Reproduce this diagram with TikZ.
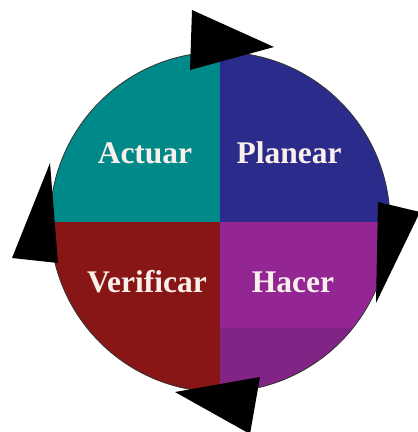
\documentclass[tikz,border=0pt]{standalone}
\usepackage{fontspec}
\setmainfont{Liberation Serif}
\definecolor{cteal}{RGB}{0,137,137}
\definecolor{cblue}{RGB}{43,43,140}
\definecolor{cred}{RGB}{136,22,22}
\definecolor{cpurple}{RGB}{148,38,148}
\definecolor{cpurpledark}{RGB}{130,36,134}
\definecolor{ctext}{RGB}{250,240,235}
\tikzset{
  lbl/.style={text=ctext, font=\bfseries\fontsize{31.5}{33}\selectfont, inner sep=0pt, anchor=base},
  arrowtri/.style={fill=black, draw=none}
}
\begin{document}
\begin{tikzpicture}[x=1pt,y=-1pt]
\useasboundingbox (0,0) rectangle (418,432);
\coordinate (c) at (220,222);
\begin{scope}
  \clip (c) circle (170);
  \fill[cteal] (50,50) rectangle (220,222);
  \fill[cblue] (220,50) rectangle (392,222);
  \fill[cred] (50,222) rectangle (220,394);
  \fill[cpurple] (220,222) rectangle (392,394);
  \fill[cpurpledark] (220,328) rectangle (392,394);
\end{scope}
\draw[black!80, line width=0.8pt] (c) circle (170);
\node[lbl] (actuar) at (145,163) {Actuar};
\node[lbl] (planear) at (289,163) {Planear};
\node[lbl] (verificar) at (147,292) {Verificar};
\node[lbl] (hacer) at (293,292) {Hacer};
\fill[arrowtri] (192,10) -- (190,70) -- (274,47) -- cycle;
\fill[arrowtri] (378,202) -- (420,212) -- (376,303) -- cycle;
\fill[arrowtri] (50,163) -- (12,258) -- (58,263) -- cycle;
\fill[arrowtri] (175,392) -- (260,377) -- (250,434) -- cycle;
\end{tikzpicture}
\end{document}
